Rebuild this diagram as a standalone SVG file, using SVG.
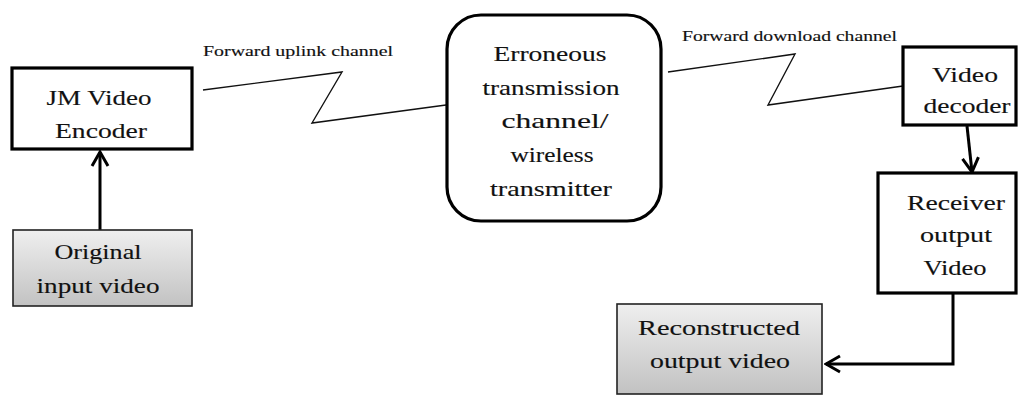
<svg xmlns="http://www.w3.org/2000/svg" width="1019" height="396" viewBox="0 0 1019 396">
  <style>
    .box { fill: #fff; stroke: #000; stroke-width: 3.2; }
    .src { stroke: #222; stroke-width: 1.6; }
    .lbl { font-family: "Liberation Serif", "Times New Roman", serif; font-size: 22px; fill: #111; stroke: #111; stroke-width: 0.15; text-anchor: middle; }
    .cap { font-family: "Liberation Serif", "Times New Roman", serif; font-size: 15px; fill: #111; stroke: #111; stroke-width: 0.15; }
    .wire { fill: none; stroke: #111; stroke-width: 1.4; stroke-linejoin: miter; }
    .flow { fill: none; stroke: #000; stroke-width: 3; }
  </style>
  <defs>
    <linearGradient id="grey" x1="0" y1="0" x2="0" y2="1">
      <stop offset="0" stop-color="#efefef"/>
      <stop offset="1" stop-color="#c2c2c2"/>
    </linearGradient>
    <marker id="arr" viewBox="0 0 18 20" refX="16" refY="10" markerWidth="18" markerHeight="20" orient="auto" markerUnits="userSpaceOnUse">
      <path d="M2,2 L16,10 L2,18" fill="none" stroke="#000" stroke-width="3"/>
    </marker>
  </defs>

  <!-- connectors -->
  <g id="connectors">
    <line class="flow" x1="100" y1="230" x2="100" y2="152" marker-end="url(#arr)"/>
    <polyline class="wire" points="203,90 342,72 312,123 446,105"/>
    <polyline class="wire" points="668,72 795,54 768,105 903,86"/>
    <line class="flow" x1="967" y1="126" x2="972" y2="172" marker-end="url(#arr)"/>
    <polyline class="flow" points="953,294 953,364 826,364" marker-end="url(#arr)"/>
  </g>

  <!-- channel captions -->
  <text class="cap" x="203" y="56" textLength="190" lengthAdjust="spacingAndGlyphs">Forward uplink channel</text>
  <text class="cap" x="682" y="41" textLength="215" lengthAdjust="spacingAndGlyphs">Forward download channel</text>

  <g id="encoder">
    <rect class="box" x="12" y="68" width="180" height="81"/>
    <text class="lbl" x="99" y="105" textLength="105" lengthAdjust="spacingAndGlyphs">JM Video</text>
    <text class="lbl" x="101" y="138" textLength="92" lengthAdjust="spacingAndGlyphs">Encoder</text>
  </g>

  <g id="original">
    <rect class="src" x="13" y="230" width="179" height="76" fill="url(#grey)"/>
    <text class="lbl" x="98" y="259" textLength="87" lengthAdjust="spacingAndGlyphs">Original</text>
    <text class="lbl" x="98" y="293" textLength="123" lengthAdjust="spacingAndGlyphs">input video</text>
  </g>

  <g id="channel">
    <rect class="box" x="447" y="15" width="214" height="206" rx="34" ry="34"/>
    <text class="lbl" x="550" y="61" textLength="113" lengthAdjust="spacingAndGlyphs">Erroneous</text>
    <text class="lbl" x="551" y="95" textLength="137" lengthAdjust="spacingAndGlyphs">transmission</text>
    <text class="lbl" x="555" y="128" textLength="107" lengthAdjust="spacingAndGlyphs">channel/</text>
    <text class="lbl" x="552" y="162" textLength="83" lengthAdjust="spacingAndGlyphs">wireless</text>
    <text class="lbl" x="551" y="196" textLength="122" lengthAdjust="spacingAndGlyphs">transmitter</text>
  </g>

  <g id="decoder">
    <rect class="box" x="903" y="47" width="113" height="78"/>
    <text class="lbl" x="965" y="82" textLength="66" lengthAdjust="spacingAndGlyphs">Video</text>
    <text class="lbl" x="967" y="113" textLength="87" lengthAdjust="spacingAndGlyphs">decoder</text>
  </g>

  <g id="receiver">
    <rect class="box" x="878" y="173" width="138" height="120"/>
    <text class="lbl" x="956" y="210" textLength="98" lengthAdjust="spacingAndGlyphs">Receiver</text>
    <text class="lbl" x="956" y="242" textLength="72" lengthAdjust="spacingAndGlyphs">output</text>
    <text class="lbl" x="955" y="275" textLength="63" lengthAdjust="spacingAndGlyphs">Video</text>
  </g>

  <g id="reconstructed">
    <rect class="src" x="617" y="304" width="205" height="90" fill="url(#grey)"/>
    <text class="lbl" x="719" y="335" textLength="162" lengthAdjust="spacingAndGlyphs">Reconstructed</text>
    <text class="lbl" x="720" y="368" textLength="140" lengthAdjust="spacingAndGlyphs">output video</text>
  </g>
</svg>
